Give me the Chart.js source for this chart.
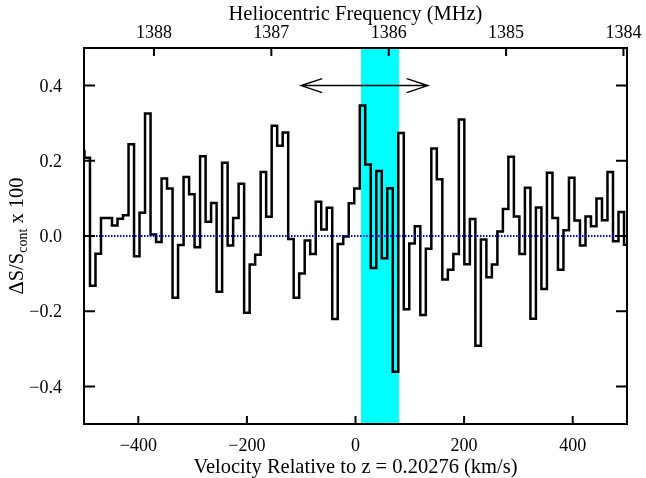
<!DOCTYPE html>
<html><head><meta charset="utf-8">
<script src="https://cdn.jsdelivr.net/npm/chart.js@4.4.1/dist/chart.umd.min.js"></script>
<style>html,body{margin:0;padding:0;background:#fff;}#wrap{width:646px;height:478px;}</style>
</head><body><div id="wrap"><canvas id="c" width="646" height="478"></canvas></div>
<script>
// Channel velocities (km/s, relative to z = 0.20276)
const velocity = [
 -504.2,-494.1,-483.9,-473.8,-463.6,-453.5,-443.4,-433.2,-423.1,-412.9,
 -402.8,-392.7,-382.5,-372.4,-362.2,-352.1,-342.0,-331.8,-321.7,-311.5,
 -301.4,-291.3,-281.1,-271.0,-260.9,-250.7,-240.6,-230.4,-220.3,-210.2,
 -200.0,-189.9,-179.7,-169.6,-159.5,-149.3,-139.2,-129.0,-118.9,-108.8,
 -98.6,-88.5,-78.3,-68.2,-58.1,-47.9,-37.8,-27.7,-17.5,-7.4,
 2.8,12.9,23.0,33.2,43.3,53.5,63.6,73.7,83.9,94.0,
 104.1,114.3,124.4,134.6,144.7,154.8,165.0,175.1,185.3,195.4,
 205.5,215.7,225.8,236.0,246.1,256.2,266.4,276.5,286.6,296.8,
 306.9,317.1,327.2,337.3,347.5,357.6,367.8,377.9,388.0,398.2,
 408.3,418.5,428.6,438.7,448.9,459.0,469.1,479.3,489.4,499.6
];
// Delta S / S_cont x 100 per channel
const flux = [
 0.226,0.208,-0.132,-0.047,0.048,0.048,0.028,0.046,0.055,0.244,
 -0.054,0.062,0.326,0.004,-0.016,0.153,0.126,-0.164,-0.024,0.157,
 0.111,-0.030,0.212,0.038,0.088,-0.148,0.195,-0.025,0.048,0.139,
 -0.204,-0.076,-0.050,0.170,0.051,0.293,0.240,0.275,-0.008,-0.164,
 -0.100,-0.012,-0.048,0.091,0.017,0.075,-0.221,-0.021,-0.001,0.087,
 0.126,0.347,0.190,-0.085,0.173,-0.059,0.127,-0.361,0.274,-0.195,
 -0.020,0.026,-0.210,-0.034,0.233,0.151,-0.116,-0.090,-0.048,0.310,
 -0.075,0.045,-0.292,-0.009,-0.110,-0.076,0.012,0.072,0.211,0.052,
 -0.048,0.128,-0.220,0.076,-0.141,0.168,0.048,-0.090,0.015,0.155,
 0.041,-0.025,0.052,0.026,0.100,0.042,0.170,-0.014,0.064,-0.023
];
const velocityTicks = [-400,-200,0,200,400];
const fluxTicks = [-0.4,-0.2,0.0,0.2,0.4];
const freqTicks = [1388,1387,1386,1385,1384];
const velocityRange = [-500,500];
const fluxRange = [-0.5,0.5];
const freqRange = [1383.97,1388.596];
const lineWindow = [10,80];
const arrowSpan = [-100,133];
const arrowLevel = [0.4];
const zeroLevel = [0];

const SERIF = '"Liberation Serif","Times New Roman",serif';
const FONT = {family:SERIF, size:18};
const TFONT = {family:SERIF, size:20.5, lineHeight:1};
const minus = s => s.replace('-', '\u2212');

const decor = {
  id:'decor',
  afterDatasetsDraw(chart){
    const {ctx, chartArea:a, scales} = chart;
    const xs = scales.x, ys = scales.y, xt = scales.x2;
    ctx.save();
    // arrow
    const x1 = xs.getPixelForValue(arrowSpan[0]), x2 = xs.getPixelForValue(arrowSpan[1]);
    const yA = ys.getPixelForValue(arrowLevel[0]);
    ctx.strokeStyle = '#000'; ctx.lineWidth = 1.5; ctx.lineJoin='miter';
    ctx.beginPath();
    ctx.moveTo(x1,yA); ctx.lineTo(x2,yA);
    ctx.moveTo(x1+21,yA-7); ctx.lineTo(x1,yA); ctx.lineTo(x1+21,yA+7);
    ctx.moveTo(x2-21,yA-7); ctx.lineTo(x2,yA); ctx.lineTo(x2-21,yA+7);
    ctx.stroke();
    // frame
    ctx.lineWidth = 2;
    ctx.strokeRect(a.left, a.top, a.right-a.left, a.bottom-a.top);
    // inward ticks
    ctx.beginPath();
    velocityTicks.forEach(v=>{const p=xs.getPixelForValue(v); ctx.moveTo(p,a.bottom); ctx.lineTo(p,a.bottom-8);});
    freqTicks.forEach(v=>{const p=xt.getPixelForValue(v); ctx.moveTo(p,a.top); ctx.lineTo(p,a.top+8);});
    fluxTicks.forEach(v=>{const p=ys.getPixelForValue(v); ctx.moveTo(a.left,p); ctx.lineTo(a.left+11,p); ctx.moveTo(a.right,p); ctx.lineTo(a.right-11,p);});
    ctx.stroke();
    ctx.restore();
  },
  afterDraw(chart){
    const {ctx, chartArea:a} = chart;
    ctx.save();
    ctx.fillStyle = '#000';
    ctx.translate(23, (a.top+a.bottom)/2);
    ctx.rotate(-Math.PI/2);
    const big = '20.5px ' + SERIF, small = '14px ' + SERIF;
    const parts = [['\u0394S/S', big, 0], ['cont', small, 4], [' x 100', big, 0]];
    let w = 0;
    parts.forEach(p=>{ctx.font=p[1]; w += ctx.measureText(p[0]).width;});
    let x = -w/2;
    ctx.textBaseline = 'alphabetic';
    parts.forEach(p=>{ctx.font=p[1]; ctx.fillText(p[0], x, p[2]); x += ctx.measureText(p[0]).width;});
    ctx.restore();
  }
};

new Chart(document.getElementById('c'), {
  type:'line',
  data:{datasets:[
    {label:'zero', data:velocityRange.map(v=>({x:v,y:zeroLevel[0]})), borderColor:'#0000ff', borderWidth:2, borderDash:[1.5,1.5], pointRadius:0, fill:false, order:1},
    {label:'spectrum', data:velocity.map((v,i)=>({x:v,y:flux[i]})), stepped:'middle', borderColor:'#000', borderWidth:2.5, pointRadius:0, fill:false, order:2},
    {label:'window', data:lineWindow.map(v=>({x:v,y:fluxRange[1]})), borderWidth:0, borderColor:'rgba(0,0,0,0)', backgroundColor:'#00ffff', fill:{value:fluxRange[0]}, pointRadius:0, order:3}
  ]},
  options:{
    responsive:false, animation:false, devicePixelRatio:1,
    layout:{padding:{left:0,right:19,top:0,bottom:0}},
    plugins:{legend:{display:false}, tooltip:{enabled:false}},
    scales:{
      x:{type:'linear', position:'bottom', min:velocityRange[0], max:velocityRange[1],
        afterFit(s){s.height=54;},
        afterBuildTicks(s){s.ticks=velocityTicks.map(v=>({value:v}));},
        grid:{display:false, drawTicks:false}, border:{display:false},
        ticks:{font:FONT, color:'#000', padding:11, maxRotation:0, autoSkip:false, callback:v=>minus(String(v))},
        title:{display:true, text:'Velocity Relative to z = 0.20276 (km/s)', font:TFONT, color:'#000', padding:{top:0,bottom:0.5}}},
      x2:{type:'linear', position:'top', min:freqRange[0], max:freqRange[1], reverse:true,
        afterFit(s){s.height=48;},
        afterBuildTicks(s){s.ticks=freqTicks.map(v=>({value:v}));},
        grid:{display:false, drawTicks:false}, border:{display:false},
        ticks:{font:FONT, color:'#000', padding:4, maxRotation:0, autoSkip:false, callback:v=>String(v)},
        title:{display:true, text:'Heliocentric Frequency (MHz)', font:TFONT, color:'#000', padding:{top:4.5,bottom:0}}},
      y:{type:'linear', position:'left', min:fluxRange[0], max:fluxRange[1],
        afterFit(s){s.width=84;},
        afterBuildTicks(s){s.ticks=fluxTicks.map(v=>({value:v}));},
        grid:{display:false, drawTicks:false}, border:{display:false},
        ticks:{font:FONT, color:'#000', padding:22, labelOffset:1.5, autoSkip:false, callback:v=>minus(Number(v).toFixed(1))},
        title:{display:false}}
    }
  },
  plugins:[decor]
});
</script></body></html>
